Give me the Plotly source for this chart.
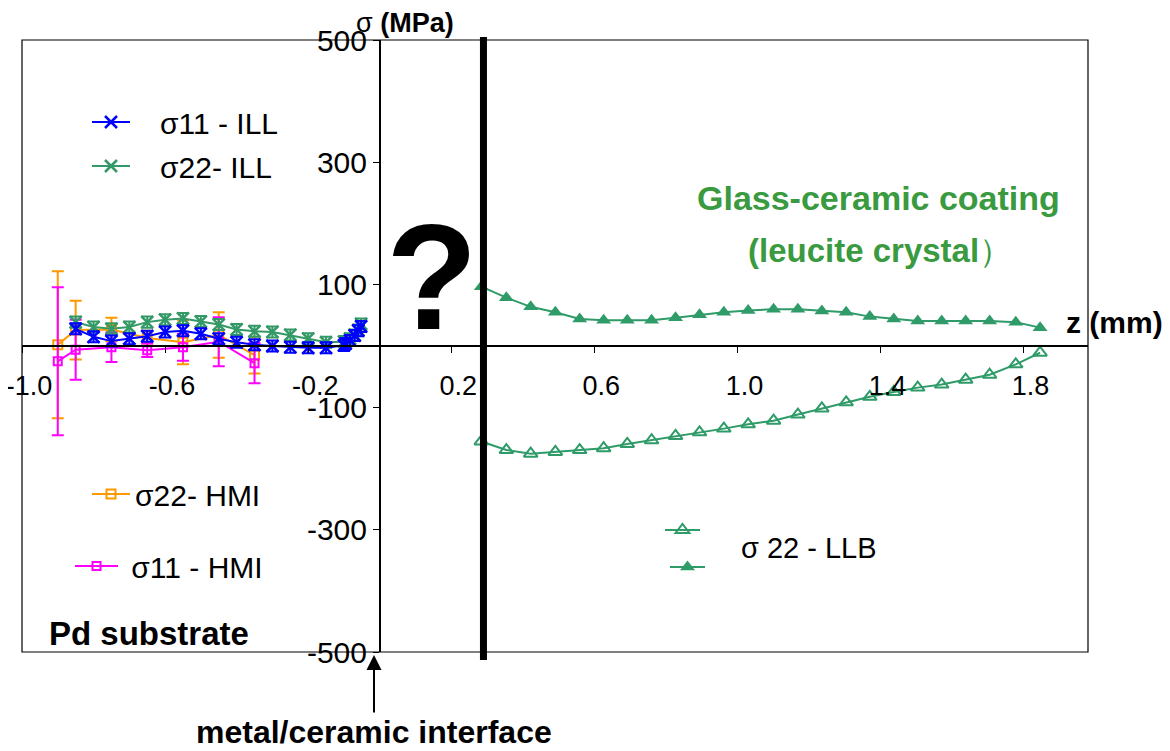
import plotly.graph_objects as go

# ---------------- data ----------------
ILL_Z = [-0.85, -0.80, -0.75, -0.70, -0.65, -0.60, -0.55, -0.50, -0.45, -0.40, -0.35,
         -0.30, -0.25, -0.20, -0.15, -0.10, -0.095, -0.083, -0.07, -0.06, -0.052]
S11_ILL = [28, 15, 8, 12, 16, 23, 25, 20, 12, 6, 2, 0, -2, -3, -3, 1, 4, 9, 17, 25, 32]
S22_ILL = [39, 31, 28, 31, 39, 43, 45, 40, 35, 27, 24, 23, 18, 12, 6, 7, 7, 12, 18, 26, 36]
ILL_ERR = 9

HMI_Z = [-0.90, -0.85, -0.75, -0.65, -0.55, -0.45, -0.35]
S22_HMI = [2, 26, 27, 13, 6, 18, -15]
S22_HMI_ERR = [120, 48, 19, 12, 36, 37, 30]
S11_HMI = [-25, -6, -2, -7, -2, 7, -28]
S11_HMI_ERR = [121, 49, 24, 11, 22, 40, 33]

LLB_Z = [0.284, 0.354, 0.422, 0.491, 0.559, 0.626, 0.692, 0.760, 0.827, 0.894, 0.962, 1.030,
         1.101, 1.169, 1.236, 1.304, 1.370, 1.437, 1.504, 1.571, 1.638, 1.705, 1.778, 1.846]
S22_LLB_UPPER = [97, 79, 64, 55, 44, 42, 42, 42, 46, 51, 55, 58,
                 60, 60, 57, 55, 48, 44, 41, 41, 41, 41, 39, 30]
S22_LLB_LOWER = [-156, -170, -176, -173, -170, -167, -160, -154, -147, -141, -135, -128,
                 -122, -112, -102, -92, -83, -75, -68, -63, -55, -47, -30, -11]

X_TICKS = [-1.0, -0.6, -0.2, 0.2, 0.6, 1.0, 1.4, 1.8]
X_TICK_TEXT = ["-1.0", "-0.6", "-0.2", "0.2", "0.6", "1.0", "1.4", "1.8"]
Y_TICKS = [-500, -300, -100, 100, 300, 500]
Y_TICK_TEXT = ["-500", "-300", "-100", "100", "300", "500"]

X_RANGE = [-1.0, 1.98]
Y_RANGE = [-500, 500]
INTERFACE_LINE_Z = 0.29

# ---------------- style ----------------
FONT = "Liberation Sans, Arial, sans-serif"
BLUE = "#0000FF"
GREEN = "#339966"
ORANGE = "#FF9900"
MAGENTA = "#FF00FF"
LLB_GREEN = "#2E9B68"
TEXT_GREEN = "#3A9A3F"
NB = "\u00a0"

fig = go.Figure()

fig.add_trace(go.Scatter(
    x=HMI_Z, y=S22_HMI, name="σ22- HMI", mode="lines+markers",
    line=dict(color=ORANGE, width=2),
    marker=dict(symbol="square-open", size=9, color=ORANGE, line=dict(width=2)),
    error_y=dict(type="data", array=S22_HMI_ERR, color=ORANGE, thickness=2, width=6),
    legend="legend3"))
fig.add_trace(go.Scatter(
    x=HMI_Z, y=S11_HMI, name=NB + "σ11 - HMI", mode="lines+markers",
    line=dict(color=MAGENTA, width=2),
    marker=dict(symbol="square-open", size=8, color=MAGENTA, line=dict(width=2)),
    error_y=dict(type="data", array=S11_HMI_ERR, color=MAGENTA, thickness=2, width=6),
    legend="legend4"))
fig.add_trace(go.Scatter(
    x=ILL_Z, y=S22_ILL, name=NB * 3 + "σ22- ILL", mode="lines+markers",
    line=dict(color=GREEN, width=2),
    marker=dict(symbol="x-thin", size=12, color=GREEN, line=dict(width=2.5, color=GREEN)),
    error_y=dict(type="constant", value=ILL_ERR, color=GREEN, thickness=2, width=6),
    legend="legend2"))
fig.add_trace(go.Scatter(
    x=ILL_Z, y=S11_ILL, name=NB * 3 + "σ11 - ILL", mode="lines+markers",
    line=dict(color=BLUE, width=2),
    marker=dict(symbol="x-thin", size=12, color=BLUE, line=dict(width=2.5, color=BLUE)),
    error_y=dict(type="constant", value=ILL_ERR, color=BLUE, thickness=2, width=6),
    legend="legend"))
fig.add_trace(go.Scatter(
    x=LLB_Z, y=S22_LLB_LOWER, name=" ", mode="lines+markers",
    line=dict(color=LLB_GREEN, width=2),
    marker=dict(symbol="triangle-up-open", size=12, color=LLB_GREEN, line=dict(width=2)),
    legend="legend5"))
fig.add_trace(go.Scatter(
    x=LLB_Z, y=S22_LLB_UPPER, name=" ", mode="lines+markers",
    line=dict(color=LLB_GREEN, width=2),
    marker=dict(symbol="triangle-up", size=13, color=LLB_GREEN),
    legend="legend6"))

# page-pixel helpers: the page has an 8 px body margin; plot box on page is 22..1088 x 40..652
OFF = 8
W, H = 1170 - OFF, 751 - OFF
L, T = 22 - OFF, 40 - OFF
R = W - (1088 - OFF)
B = H - (652 - OFF)
PW, PH = W - L - R, H - T - B


def px(xp):
    return (xp - OFF - L) / PW


def py(yp):
    return (H - B - (yp - OFF)) / PH


def leg(line_start, yp, iw):
    return dict(x=px(line_start - 5), y=py(yp), xanchor="left", yanchor="middle",
                bgcolor="rgba(0,0,0,0)", font=dict(family=FONT, size=30, color="black"),
                itemwidth=iw, borderwidth=0)


x_pos = (0 - Y_RANGE[0]) / (Y_RANGE[1] - Y_RANGE[0])
y_pos = (0 - X_RANGE[0]) / (X_RANGE[1] - X_RANGE[0])

fig.update_layout(
    width=W, height=H,
    margin=dict(l=L, r=R, t=T, b=B, autoexpand=False),
    paper_bgcolor="white", plot_bgcolor="white",
    font=dict(family=FONT, size=27, color="black"),
    xaxis=dict(range=X_RANGE, anchor="free", position=x_pos, showline=True,
               linecolor="black", linewidth=1.5, ticks="outside", ticklen=6,
               tickwidth=1.2, tickcolor="black", tickvals=X_TICKS, ticktext=X_TICK_TEXT,
               tickfont=dict(size=27), showgrid=False, zeroline=False, automargin=False,
               ticklabelstandoff=10, ticklabelshift=7, ticklabeloverflow="allow"),
    yaxis=dict(range=Y_RANGE, anchor="free", position=y_pos, showline=True,
               linecolor="black", linewidth=1.5, ticks="outside", ticklen=6,
               tickwidth=1.2, tickcolor="black", tickvals=Y_TICKS, ticktext=Y_TICK_TEXT,
               tickfont=dict(size=30), showgrid=False, zeroline=False, automargin=False,
               ticklabeloverflow="allow"),
    legend=leg(92, 122, 38),
    legend2=leg(92, 166, 38),
    legend3=leg(92, 494, 38),
    legend4=leg(75, 566, 43),
    legend5=leg(665, 530, 35),
    legend6=leg(670, 567, 35),
    showlegend=True,
)

fig.add_shape(type="rect", xref="paper", yref="paper", x0=0, x1=1, y0=0, y1=1,
              line=dict(color="black", width=1.2))
fig.add_shape(type="line", xref="x", yref="paper", x0=INTERFACE_LINE_Z, x1=INTERFACE_LINE_Z,
              y0=py(660), y1=py(37), line=dict(color="black", width=7))

ann = [
    dict(x=px(405), y=py(23), text="σ <b>(MPa)</b>", font=dict(size=27)),
    dict(x=px(1064), y=py(322), text="<b>z (mm)</b>", font=dict(size=30), xanchor="left"),
    dict(x=px(432), y=py(277), text="<b>?</b>", font=dict(size=150)),
    dict(x=px(878), y=py(198), text="<b>Glass-ceramic coating</b>",
         font=dict(size=34, color=TEXT_GREEN)),
    dict(x=px(880), y=py(250), text="<b>(leucite crystal</b>）",
         font=dict(size=33, color=TEXT_GREEN)),
    dict(x=px(47), y=py(633), text="<b>Pd substrate</b>", font=dict(size=33), xanchor="left"),
    dict(x=px(739), y=py(548), text="σ 22 - LLB", font=dict(size=29), xanchor="left"),
]
for a in ann:
    a.setdefault("xanchor", "center")
    fig.add_annotation(xref="paper", yref="paper", showarrow=False, yanchor="middle", **a)

fig.add_annotation(x=px(374), y=py(655), xref="paper", yref="paper",
                   text="<b>metal/ceramic interface</b>",
                   showarrow=True, arrowhead=2, arrowsize=1.5, arrowwidth=2,
                   arrowcolor="black", ax=0, ay=77, font=dict(size=32))

fig.write_html("out.html")
